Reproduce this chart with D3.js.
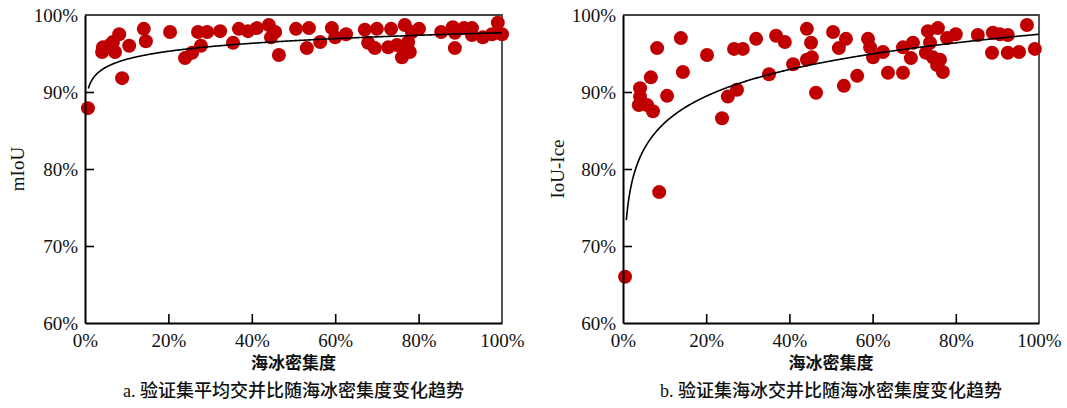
<!DOCTYPE html>
<html>
<head>
<meta charset="utf-8">
<script src="https://cdn.jsdelivr.net/npm/d3@7"></script>
<style>
  body { margin: 0; background: #fff; }
  svg { display: block; }
  .tick text { font-family: "Liberation Serif", "Times New Roman", serif; font-size: 19px; fill: #111; }
</style>
</head>
<body>
<svg id="chart" width="1067" height="408"></svg>
<script>
// Ice concentration (%) and mean IoU (%) per validation sample
const miouConc = [0.7,4.3,4.1,6.0,6.7,7.2,8.2,10.6,8.9,14.1,14.6,20.4,24.0,25.7,27.1,27.8,29.3,32.4,35.5,36.9,39.1,41.2,44.1,44.6,45.6,46.5,50.6,53.2,53.7,56.4,59.2,60.0,62.6,67.1,67.9,69.5,70.0,72.7,73.4,74.8,76.0,76.3,76.7,77.5,77.9,78.4,80.1,85.4,88.2,88.7,88.7,90.9,92.8,92.8,95.4,97.6,99.0,100.0];
const miouVal  = [87.9,95.8,95.2,96.1,96.5,95.2,97.5,96.0,91.8,98.2,96.6,97.8,94.4,95.1,97.8,96.0,97.8,97.9,96.4,98.2,97.9,98.3,98.7,97.1,97.8,94.8,98.2,95.7,98.3,96.5,98.3,97.1,97.5,98.1,96.4,95.7,98.2,95.8,98.2,96.1,94.5,95.7,98.7,96.5,95.2,97.8,98.2,97.8,98.4,97.7,95.7,98.3,98.3,97.4,97.1,97.5,99.0,97.5];

// Ice concentration (%) and sea-ice IoU (%) per validation sample
const iceConc = [0.5,4.1,4.1,3.8,5.8,7.2,6.7,8.2,8.7,10.6,13.9,14.4,20.2,23.8,25.2,26.7,27.4,28.8,32.0,35.1,36.8,38.9,40.9,44.2,44.2,45.2,45.4,46.4,50.5,51.9,53.1,53.6,56.3,58.9,59.4,60.1,62.5,63.7,67.3,67.3,69.2,69.7,72.8,73.3,73.8,74.5,75.5,75.7,76.2,76.9,77.9,80.0,85.3,88.7,88.9,90.6,92.5,92.5,95.2,97.1,99.0];
const iceVal  = [66.0,90.5,89.4,88.3,88.3,87.5,91.9,95.7,77.0,89.5,97.0,92.6,94.8,86.6,89.4,95.6,90.3,95.6,96.9,92.3,97.3,96.5,93.6,98.2,94.2,96.4,94.5,89.9,97.8,95.7,90.8,96.9,92.1,96.9,95.8,94.5,95.2,92.5,92.5,95.8,94.4,96.4,95.1,97.9,96.4,94.5,93.5,98.3,94.2,92.6,97.0,97.5,97.4,95.1,97.7,97.5,97.4,95.1,95.2,98.7,95.6];

// Logarithmic trend lines: y = a + b * ln(x), x and y in fractions
const miouFit = { a: 0.977, b: 0.015 };
const iceFit  = { a: 0.975, b: 0.050 };

const xTicks = [0, 0.2, 0.4, 0.6, 0.8, 1.0];
const yTicks = [0.6, 0.7, 0.8, 0.9, 1.0];
const xTitle = "海冰密集度";

const panels = [
  { left: 85, right: 502, conc: miouConc, val: miouVal, fit: miouFit, yTitle: "mIoU", yTitleX: 17,
    caption: "a. 验证集平均交并比随海冰密集度变化趋势" },
  { left: 623, right: 1039, conc: iceConc, val: iceVal, fit: iceFit, yTitle: "IoU-Ice", yTitleX: 557,
    caption: "b. 验证集海冰交并比随海冰密集度变化趋势" }
];

const svg = d3.select("#chart");
const plotTop = 15, plotBottom = 323;
const fmt = d3.format(".0%");
const dotColor = "#c00000";

panels.forEach(p => {
  const x = d3.scaleLinear().domain([0, 1]).range([p.left, p.right]);
  const y = d3.scaleLinear().domain([0.6, 1.0]).range([plotBottom, plotTop]);
  const g = svg.append("g");

  // top and right frame
  g.append("path")
    .attr("d", `M${p.left},${plotTop}H${p.right}V${plotBottom}`)
    .attr("fill", "none").attr("stroke", "#444").attr("stroke-width", 1.8);

  // points
  g.append("g").selectAll("circle")
    .data(p.conc.map((c, i) => [c / 100, p.val[i] / 100]))
    .join("circle")
    .attr("cx", d => x(d[0]))
    .attr("cy", d => y(d[1]))
    .attr("r", 7)
    .attr("fill", dotColor);

  // trend curve
  const xs = d3.range(0.008, 1.0001, 0.002);
  g.append("path")
    .datum(xs)
    .attr("fill", "none")
    .attr("stroke", "#000")
    .attr("stroke-width", 1.6)
    .attr("d", d3.line().x(d => x(d)).y(d => y(p.fit.a + p.fit.b * Math.log(d))));

  // axes with inward ticks
  const xAxis = g.append("g")
    .attr("transform", `translate(0,${plotBottom})`)
    .call(d3.axisBottom(x).tickValues(xTicks).tickFormat(fmt).tickSize(-9).tickSizeOuter(0));
  const yAxis = g.append("g")
    .attr("transform", `translate(${p.left},0)`)
    .call(d3.axisLeft(y).tickValues(yTicks).tickFormat(fmt).tickSize(-9).tickSizeOuter(0));
  [xAxis, yAxis].forEach(a => {
    a.select(".domain").attr("stroke", "#000").attr("stroke-width", 2);
    a.selectAll(".tick line").attr("stroke", "#000").attr("stroke-width", 1.6);
  });
  xAxis.selectAll(".tick").filter(d => d === 0 || d === 1).select("line").remove();
  yAxis.selectAll(".tick").filter(d => d === 0.6 || d === 1.0).select("line").remove();
  xAxis.selectAll(".tick text").attr("dy", "0.35em").attr("y", 17);
  yAxis.selectAll(".tick text").attr("dy", "0.35em").attr("x", -7);

  // axis titles
  const cx = (p.left + p.right) / 2;
  g.append("text")
    .attr("x", cx).attr("y", 369)
    .attr("text-anchor", "middle")
    .style("font-family", "'Noto Sans CJK SC', sans-serif")
    .style("font-size", "17px").style("font-weight", "bold")
    .attr("fill", "#111")
    .text(xTitle);
  g.append("text")
    .attr("transform", `translate(${p.yTitleX},${(plotTop + plotBottom) / 2}) rotate(-90)`)
    .attr("text-anchor", "middle")
    .attr("dy", "0.35em")
    .style("font-family", "'Liberation Serif', serif")
    .style("font-size", "19px")
    .attr("fill", "#111")
    .text(p.yTitle);

  // caption
  g.append("text")
    .attr("x", cx).attr("y", 397)
    .attr("text-anchor", "middle")
    .style("font-family", "'Liberation Serif', 'Noto Sans CJK SC', serif")
    .style("font-size", "18px")
    .style("font-weight", "500")
    .attr("fill", "#111")
    .text(p.caption);
});
</script>
</body>
</html>
